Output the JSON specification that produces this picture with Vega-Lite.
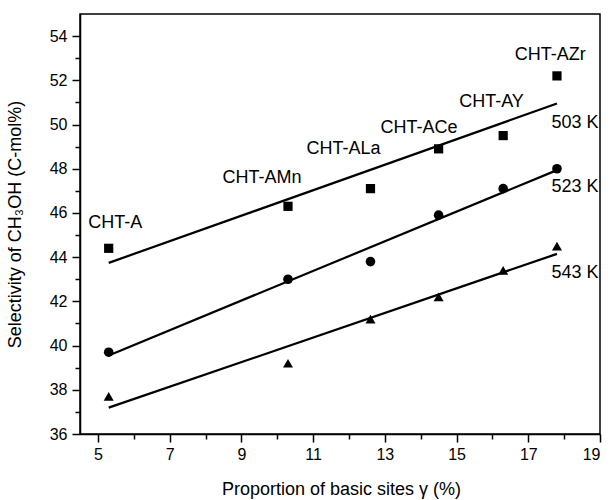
{
  "$schema": "https://vega.github.io/schema/vega-lite/v6.json",
  "width": 520,
  "height": 420,
  "autosize": {"type": "none"},
  "padding": {"left": 80, "top": 14, "right": 13, "bottom": 66},
  "config": {
    "font": "Liberation Sans",
    "view": {"stroke": "black", "strokeWidth": 1.5},
    "axis": {
      "grid": false,
      "domainColor": "black",
      "domainWidth": 1.5,
      "tickColor": "black",
      "tickWidth": 1.5,
      "labelColor": "black",
      "labelFontSize": 16,
      "labelFont": "Liberation Sans",
      "titleColor": "black",
      "titleFontSize": 18,
      "titleFont": "Liberation Sans",
      "titleFontWeight": "normal"
    }
  },
  "datasets": {
    "points": [
      {"x": 5.3, "sel": 44.4, "temp": "503 K"},
      {"x": 10.3, "sel": 46.3, "temp": "503 K"},
      {"x": 12.6, "sel": 47.1, "temp": "503 K"},
      {"x": 14.5, "sel": 48.9, "temp": "503 K"},
      {"x": 16.3, "sel": 49.5, "temp": "503 K"},
      {"x": 17.8, "sel": 52.2, "temp": "503 K"},
      {"x": 5.3, "sel": 39.7, "temp": "523 K"},
      {"x": 10.3, "sel": 43.0, "temp": "523 K"},
      {"x": 12.6, "sel": 43.8, "temp": "523 K"},
      {"x": 14.5, "sel": 45.9, "temp": "523 K"},
      {"x": 16.3, "sel": 47.1, "temp": "523 K"},
      {"x": 17.8, "sel": 48.0, "temp": "523 K"},
      {"x": 5.3, "sel": 37.7, "temp": "543 K"},
      {"x": 10.3, "sel": 39.2, "temp": "543 K"},
      {"x": 12.6, "sel": 41.2, "temp": "543 K"},
      {"x": 14.5, "sel": 42.2, "temp": "543 K"},
      {"x": 16.3, "sel": 43.4, "temp": "543 K"},
      {"x": 17.8, "sel": 44.5, "temp": "543 K"}
    ],
    "labels": [
      {"x": 5.48, "sel": 45.55, "text": "CHT-A"},
      {"x": 9.575, "sel": 47.58, "text": "CHT-AMn"},
      {"x": 11.85, "sel": 48.9, "text": "CHT-ALa"},
      {"x": 13.95, "sel": 49.86, "text": "CHT-ACe"},
      {"x": 15.975, "sel": 51.04, "text": "CHT-AY"},
      {"x": 17.61, "sel": 53.15, "text": "CHT-AZr"},
      {"x": 18.3, "sel": 50.07, "text": "503 K"},
      {"x": 18.3, "sel": 47.18, "text": "523 K"},
      {"x": 18.3, "sel": 43.29, "text": "543 K"}
    ]
  },
  "encoding": {
    "x": {
      "field": "x",
      "type": "quantitative",
      "scale": {"domain": [4.5, 19], "nice": false, "zero": false},
      "axis": {
        "title": "Proportion of basic sites γ (%)",
        "values": [5, 6, 7, 8, 9, 10, 11, 12, 13, 14, 15, 16, 17, 18, 19],
        "labelExpr": "datum.value % 2 == 1 ? datum.label : ''",
        "tickSize": {"condition": {"test": "datum.value % 2 == 0", "value": 5}, "value": 8},
        "labelPadding": 4,
        "titleX": 261,
        "titleY": 55,
        "titleAlign": "center",
        "titleBaseline": "middle"
      }
    },
    "y": {
      "field": "sel",
      "type": "quantitative",
      "scale": {"domain": [36, 55], "nice": false, "zero": false},
      "axis": {
        "title": "Selectivity of CH₃OH (C-mol%)",
        "values": [36, 37, 38, 39, 40, 41, 42, 43, 44, 45, 46, 47, 48, 49, 50, 51, 52, 53, 54],
        "labelExpr": "datum.value % 2 == 0 ? datum.label : ''",
        "tickSize": {"condition": {"test": "datum.value % 2 == 1", "value": 5}, "value": 8},
        "labelPadding": 5,
        "titleX": -65,
        "titleY": 210,
        "titleAngle": -90,
        "titleAlign": "center",
        "titleBaseline": "middle"
      }
    }
  },
  "layer": [
    {
      "data": {"name": "points"},
      "transform": [{"regression": "sel", "on": "x", "groupby": ["temp"]}],
      "mark": {"type": "line", "color": "black", "strokeWidth": 2.2},
      "encoding": {"detail": {"field": "temp"}}
    },
    {
      "data": {"name": "points"},
      "mark": {"type": "point", "filled": true, "color": "black", "opacity": 1},
      "encoding": {
        "shape": {
          "field": "temp",
          "type": "nominal",
          "scale": {"domain": ["503 K", "523 K", "543 K"], "range": ["square", "circle", "triangle-up"]},
          "legend": null
        },
        "size": {
          "field": "temp",
          "type": "nominal",
          "scale": {"domain": ["503 K", "523 K", "543 K"], "range": [85, 100, 210]},
          "legend": null
        }
      }
    },
    {
      "data": {"name": "labels"},
      "mark": {"type": "text", "fontSize": 18, "color": "black", "align": "center", "baseline": "middle", "font": "Liberation Sans"},
      "encoding": {"text": {"field": "text"}}
    }
  ]
}
